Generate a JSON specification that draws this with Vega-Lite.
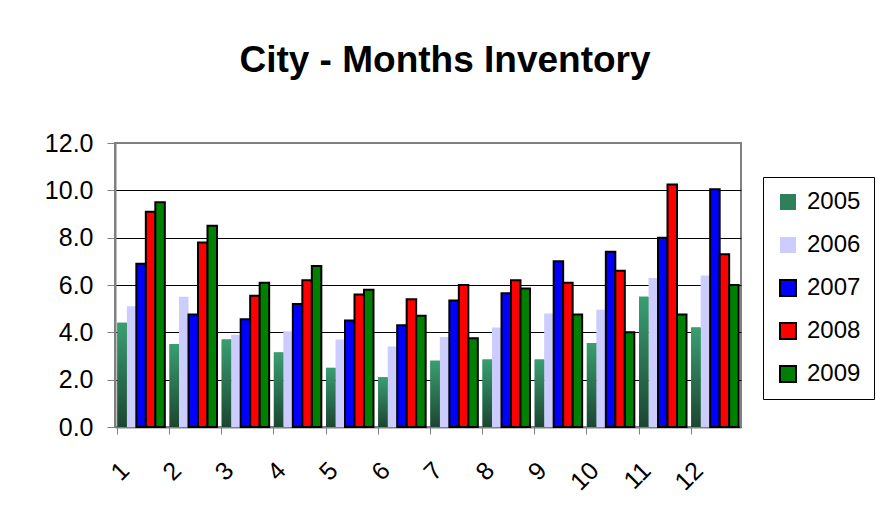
{
  "$schema": "https://vega.github.io/schema/vega-lite/v6.json",
  "width": 626,
  "height": 284,
  "autosize": {"type": "none"},
  "padding": {"left": 115, "top": 143, "right": 136, "bottom": 102},
  "background": "white",
  "title": {
    "text": "City - Months Inventory",
    "font": "Liberation Sans",
    "fontSize": 37,
    "fontWeight": "bold",
    "color": "black",
    "anchor": "middle",
    "frame": "group",
    "dx": 17,
    "baseline": "alphabetic",
    "offset": 22
  },
  "data": {
    "values": [
      {"month": 1, "year": "2005", "value": 4.4}, {"month": 1, "year": "2006", "value": 5.1}, {"month": 1, "year": "2007", "value": 6.9}, {"month": 1, "year": "2008", "value": 9.1}, {"month": 1, "year": "2009", "value": 9.5},
      {"month": 2, "year": "2005", "value": 3.5}, {"month": 2, "year": "2006", "value": 5.5}, {"month": 2, "year": "2007", "value": 4.75}, {"month": 2, "year": "2008", "value": 7.8}, {"month": 2, "year": "2009", "value": 8.5},
      {"month": 3, "year": "2005", "value": 3.7}, {"month": 3, "year": "2006", "value": 3.9}, {"month": 3, "year": "2007", "value": 4.55}, {"month": 3, "year": "2008", "value": 5.55}, {"month": 3, "year": "2009", "value": 6.1},
      {"month": 4, "year": "2005", "value": 3.15}, {"month": 4, "year": "2006", "value": 4.05}, {"month": 4, "year": "2007", "value": 5.2}, {"month": 4, "year": "2008", "value": 6.2}, {"month": 4, "year": "2009", "value": 6.8},
      {"month": 5, "year": "2005", "value": 2.5}, {"month": 5, "year": "2006", "value": 3.7}, {"month": 5, "year": "2007", "value": 4.5}, {"month": 5, "year": "2008", "value": 5.6}, {"month": 5, "year": "2009", "value": 5.8},
      {"month": 6, "year": "2005", "value": 2.1}, {"month": 6, "year": "2006", "value": 3.4}, {"month": 6, "year": "2007", "value": 4.3}, {"month": 6, "year": "2008", "value": 5.4}, {"month": 6, "year": "2009", "value": 4.7},
      {"month": 7, "year": "2005", "value": 2.8}, {"month": 7, "year": "2006", "value": 3.8}, {"month": 7, "year": "2007", "value": 5.35}, {"month": 7, "year": "2008", "value": 6.0}, {"month": 7, "year": "2009", "value": 3.75},
      {"month": 8, "year": "2005", "value": 2.85}, {"month": 8, "year": "2006", "value": 4.2}, {"month": 8, "year": "2007", "value": 5.65}, {"month": 8, "year": "2008", "value": 6.2}, {"month": 8, "year": "2009", "value": 5.85},
      {"month": 9, "year": "2005", "value": 2.85}, {"month": 9, "year": "2006", "value": 4.8}, {"month": 9, "year": "2007", "value": 7.0}, {"month": 9, "year": "2008", "value": 6.1}, {"month": 9, "year": "2009", "value": 4.75},
      {"month": 10, "year": "2005", "value": 3.55}, {"month": 10, "year": "2006", "value": 4.95}, {"month": 10, "year": "2007", "value": 7.4}, {"month": 10, "year": "2008", "value": 6.6}, {"month": 10, "year": "2009", "value": 4.0},
      {"month": 11, "year": "2005", "value": 5.5}, {"month": 11, "year": "2006", "value": 6.3}, {"month": 11, "year": "2007", "value": 8.0}, {"month": 11, "year": "2008", "value": 10.25}, {"month": 11, "year": "2009", "value": 4.75},
      {"month": 12, "year": "2005", "value": 4.2}, {"month": 12, "year": "2006", "value": 6.4}, {"month": 12, "year": "2007", "value": 10.05}, {"month": 12, "year": "2008", "value": 7.3}, {"month": 12, "year": "2009", "value": 6.0}
    ]
  },
  "encoding": {
    "x": {
      "field": "month",
      "type": "ordinal",
      "scale": {"paddingInner": 0.09, "paddingOuter": 0.045},
      "axis": {
        "title": null,
        "bandPosition": 0,
        "labelAngle": -45,
        "labelAlign": "right",
        "labelBaseline": "middle",
        "labelOffset": -16,
        "labelPadding": 32,
        "labelFont": "Liberation Sans",
        "labelFontSize": 25,
        "labelColor": "black",
        "tickSize": 7,
        "tickColor": "#808080",
        "tickWidth": 1,
        "domainColor": "#808080",
        "domainWidth": 2,
        "grid": false
      }
    },
    "xOffset": {
      "field": "year",
      "type": "nominal",
      "scale": {"paddingInner": 0, "paddingOuter": 0}
    },
    "y": {
      "field": "value",
      "type": "quantitative",
      "scale": {"domain": [0, 12], "nice": false},
      "axis": {
        "title": null,
        "values": [0, 2, 4, 6, 8, 10, 12],
        "format": ".1f",
        "labelFont": "Liberation Sans",
        "labelFontSize": 25,
        "labelColor": "black",
        "labelPadding": 14,
        "tickSize": 8,
        "tickColor": "#808080",
        "domainColor": "#808080",
        "domainWidth": 2,
        "grid": true,
        "gridColor": {"condition": {"test": "datum.value == 12", "value": "#808080"}, "value": "black"},
        "gridWidth": 1
      }
    }
  },
  "layer": [
    {
      "mark": {"type": "bar", "strokeWidth": 2},
      "encoding": {
        "fill": {
          "field": "year",
          "type": "nominal",
          "scale": {
            "domain": ["2005", "2006", "2007", "2008", "2009"],
            "range": ["#2f7f5a", "#ccccff", "#0000ff", "#ff0000", "#008000"]
          },
          "legend": {
            "orient": "none",
            "legendX": 648,
            "legendY": 34,
            "title": null,
            "strokeColor": "black",
            "fillColor": "white",
            "padding": 13,
            "rowPadding": 19,
            "symbolType": "square",
            "symbolSize": 256,
            "symbolStrokeWidth": 2,
            "labelFont": "Liberation Sans",
            "labelFontSize": 24,
            "labelColor": "black",
            "labelOffset": 7
          }
        },
        "stroke": {
          "field": "year",
          "type": "nominal",
          "scale": {
            "domain": ["2005", "2006", "2007", "2008", "2009"],
            "range": ["transparent", "transparent", "black", "black", "black"]
          }
        }
      }
    },
    {
      "transform": [{"filter": "datum.year == '2005'"}],
      "mark": {
        "type": "bar",
        "fill": {
          "gradient": "linear",
          "x1": 0, "y1": 0, "x2": 0, "y2": 1,
          "stops": [
            {"offset": 0, "color": "#3a9e72"},
            {"offset": 1, "color": "#1b4631"}
          ]
        }
      }
    }
  ],
  "config": {
    "view": {"stroke": "#808080", "strokeWidth": 2},
    "font": "Liberation Sans"
  }
}
